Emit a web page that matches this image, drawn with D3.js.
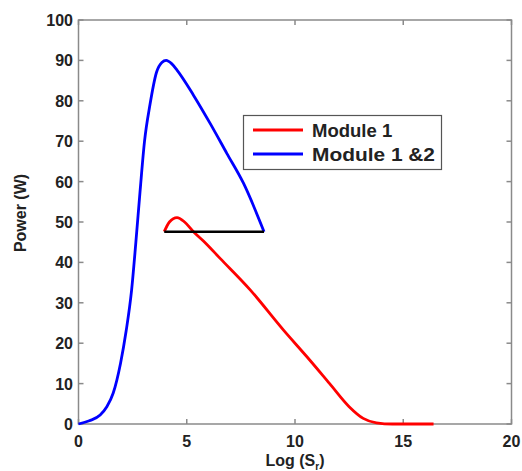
<!DOCTYPE html>
<html><head><meta charset="utf-8">
<script src="https://cdn.jsdelivr.net/npm/d3@7"></script>
<style>body{margin:0;background:#fff}svg{display:block}</style>
</head><body>
<script>
const module12X = [0, 0.5, 1.0, 1.3, 1.6, 1.94, 2.2, 2.45, 2.65, 2.85, 3.05, 3.3, 3.6, 3.85, 4.05, 4.3, 4.55, 5.31, 6.08, 6.85, 7.62, 8.57];
const module12Y = [0, 0.8, 2.2, 4.2, 7.6, 15, 23, 33, 45, 58, 70, 79, 87, 89.5, 90, 89.2, 87.6, 81.4, 74.4, 67, 59.6, 47.6];
const module1X = [3.96, 4.2, 4.55, 4.9, 5.31, 5.77, 6.54, 7.93, 9.46, 10.54, 11.6, 12.5, 13.15, 13.76, 14.5, 16.4];
const module1Y = [47.6, 50.0, 51.1, 50.0, 47.6, 45.3, 41, 33.2, 23.3, 16.7, 10, 4.3, 1.4, 0.3, 0, 0];
const hlineX = [3.96, 8.57];
const hlineY = [47.6, 47.6];
const xTicks = [0, 5, 10, 15, 20];
const yTicks = [0, 10, 20, 30, 40, 50, 60, 70, 80, 90, 100];
const seriesNames = ["Module 1", "Module 1 &2"];
const seriesColors = ["#ff0000", "#0000ff"];

const W = 522, H = 471;
const svg = d3.select("body").append("svg").attr("width", W).attr("height", H);
const x = d3.scaleLinear().domain([0, 20]).range([78.5, 511.5]);
const y = d3.scaleLinear().domain([0, 100]).range([424, 20]);
const font = "Arial, 'Liberation Sans', sans-serif";
const axisColor = "#8a8a8a";
const textColor = "#222";

svg.append("rect").attr("x", x(0)).attr("y", y(100)).attr("width", x(20) - x(0)).attr("height", y(0) - y(100))
  .attr("fill", "none").attr("stroke", axisColor).attr("stroke-width", 1.5);

const tl = 5;
xTicks.forEach(t => {
  svg.append("line").attr("x1", x(t)).attr("x2", x(t)).attr("y1", y(0)).attr("y2", y(0) - tl).attr("stroke", axisColor).attr("stroke-width", 1.5);
  svg.append("line").attr("x1", x(t)).attr("x2", x(t)).attr("y1", y(100)).attr("y2", y(100) + tl).attr("stroke", axisColor).attr("stroke-width", 1.5);
  svg.append("text").attr("x", x(t)).attr("y", 447).attr("text-anchor", "middle")
    .attr("font-family", font).attr("font-weight", "bold").attr("font-size", 16).attr("fill", textColor).text(t);
});
yTicks.forEach(t => {
  svg.append("line").attr("x1", x(0)).attr("x2", x(0) + tl).attr("y1", y(t)).attr("y2", y(t)).attr("stroke", axisColor).attr("stroke-width", 1.5);
  svg.append("line").attr("x1", x(20)).attr("x2", x(20) - tl).attr("y1", y(t)).attr("y2", y(t)).attr("stroke", axisColor).attr("stroke-width", 1.5);
  svg.append("text").attr("x", 73).attr("y", y(t) + 6).attr("text-anchor", "end")
    .attr("font-family", font).attr("font-weight", "bold").attr("font-size", 16).attr("fill", textColor).text(t);
});

const xl = svg.append("text").attr("x", 295).attr("y", 466).attr("text-anchor", "middle")
  .attr("font-family", font).attr("font-weight", "bold").attr("font-size", 16).attr("fill", textColor);
xl.append("tspan").text("Log (S");
xl.append("tspan").attr("font-size", 10).attr("dy", 4).text("r");
xl.append("tspan").attr("dy", -4).text(")");

svg.append("text").attr("transform", "translate(26,213) rotate(-90)").attr("text-anchor", "middle")
  .attr("font-family", font).attr("font-weight", "bold").attr("font-size", 16).attr("fill", textColor).text("Power (W)");

const line = d3.line().x(d => x(d[0])).y(d => y(d[1])).curve(d3.curveMonotoneX);

svg.append("path").datum(module12X.map((v, i) => [v, module12Y[i]])).attr("d", line)
  .attr("fill", "none").attr("stroke", seriesColors[1]).attr("stroke-width", 2.8);
svg.append("path").datum(module1X.map((v, i) => [v, module1Y[i]])).attr("d", line)
  .attr("fill", "none").attr("stroke", seriesColors[0]).attr("stroke-width", 2.8);
svg.append("path").datum(hlineX.map((v, i) => [v, hlineY[i]])).attr("d", d3.line().x(d => x(d[0])).y(d => y(d[1])))
  .attr("fill", "none").attr("stroke", "#000").attr("stroke-width", 2.4);

const lg = svg.append("g");
lg.append("rect").attr("x", 243.5).attr("y", 115.5).attr("width", 198).attr("height", 54)
  .attr("fill", "#fff").attr("stroke", "#555").attr("stroke-width", 1.2);
seriesNames.forEach((n, i) => {
  const yy = 130 + i * 24;
  lg.append("line").attr("x1", 253).attr("x2", 303).attr("y1", yy).attr("y2", yy)
    .attr("stroke", seriesColors[i]).attr("stroke-width", 2.8);
  lg.append("text").attr("x", 312).attr("y", yy + 7).attr("font-family", font).attr("font-weight", "bold")
    .attr("font-size", 18.5).attr("fill", textColor).attr("textLength", 123).attr("lengthAdjust", "spacingAndGlyphs")
    .text(n);
});
// remove forced length for shorter entry
lg.selectAll("text").filter((d, i) => i === 0).attr("textLength", null).attr("lengthAdjust", null);
</script>
</body></html>
